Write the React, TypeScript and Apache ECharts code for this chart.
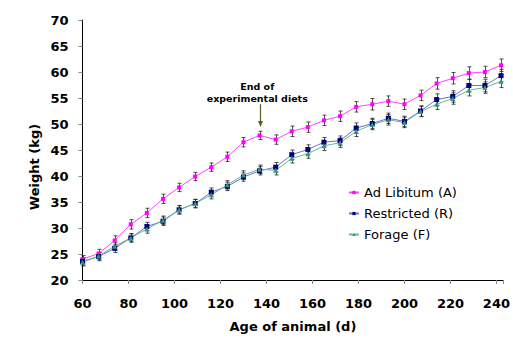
import React, { useEffect, useRef } from "react";
import * as echarts from "echarts";

const days = [60, 67, 74, 81, 88, 95, 102, 109, 116, 123, 130, 137, 144, 151, 158, 165, 172, 179, 186, 193, 200, 207, 214, 221, 228, 235, 242];
const adLibitum = [24.0, 25.1, 27.6, 30.7, 32.9, 35.6, 37.8, 39.9, 41.7, 43.7, 46.5, 47.8, 47.0, 48.6, 49.4, 50.7, 51.5, 53.3, 53.8, 54.4, 53.8, 55.5, 57.8, 58.8, 59.8, 60.0, 61.3];
const restricted = [23.6, 24.5, 26.1, 28.1, 30.3, 31.3, 33.5, 34.7, 36.9, 38.0, 39.8, 41.0, 41.7, 44.1, 45.1, 46.5, 46.8, 49.2, 50.1, 51.1, 50.5, 52.5, 54.7, 55.3, 57.4, 57.4, 59.3];
const forage = [23.4, 24.6, 26.5, 28.1, 29.8, 31.5, 33.5, 34.7, 36.4, 38.3, 40.2, 41.3, 41.1, 43.4, 44.3, 45.8, 46.4, 48.6, 49.9, 50.8, 50.3, 52.4, 53.8, 54.9, 56.5, 57.0, 58.2];
const adLibitumErr = [0.7, 0.8, 0.9, 0.9, 0.9, 0.9, 0.8, 0.8, 0.8, 0.9, 0.9, 0.8, 0.9, 1.0, 1.0, 1.0, 1.0, 1.0, 1.1, 1.0, 1.0, 1.0, 1.1, 1.1, 1.2, 1.1, 1.2];
const restrictedErr = [0.7, 0.8, 0.8, 0.8, 0.8, 0.8, 0.8, 0.8, 0.8, 0.8, 0.8, 0.8, 0.9, 0.9, 0.9, 0.9, 0.9, 1.0, 1.0, 1.0, 1.0, 1.0, 1.1, 1.1, 1.2, 1.2, 1.2];
const forageErr = [0.7, 0.7, 0.8, 0.8, 0.8, 0.8, 0.8, 0.8, 0.8, 0.8, 0.8, 0.8, 0.9, 0.9, 0.9, 0.9, 0.9, 1.0, 1.0, 1.0, 1.0, 1.0, 1.0, 1.1, 1.1, 1.1, 1.2];
const seriesNames = ["Ad Libitum (A)", "Restricted (R)", "Forage (F)"];
const annotationLines = ["End of", "experimental diets"];
const annotationDay = 137;

const FONT = "DejaVu Sans";

function errorSeries(values: number[], errs: number[]) {
  return {
    type: "custom",
    silent: true,
    z: 3,
    data: days.map((d, i) => [d, values[i], errs[i]]),
    renderItem: (params: any, api: any) => {
      const x = api.value(0);
      const y = api.value(1);
      const e = api.value(2);
      const top = api.coord([x, y + e]);
      const bot = api.coord([x, y - e]);
      const w = 2;
      const cx = Math.round(top[0]) + 0.5;
      const st = { stroke: "#222", lineWidth: 0.8 };
      return {
        type: "group",
        children: [
          { type: "line", shape: { x1: cx, y1: top[1], x2: cx, y2: bot[1] }, style: st },
          { type: "line", shape: { x1: cx - w, y1: top[1], x2: cx + w, y2: top[1] }, style: st },
          { type: "line", shape: { x1: cx - w, y1: bot[1], x2: cx + w, y2: bot[1] }, style: st },
        ],
      };
    },
  };
}

export default function App() {
  const ref = useRef<HTMLDivElement>(null);
  useEffect(() => {
    document.body.style.margin = "0";
    const chart = echarts.init(ref.current!, null, { renderer: "svg" });
    const option: any = {
      animation: false,
      textStyle: { fontFamily: FONT },
      grid: { left: 82.5, right: 5, top: 20, bottom: 55.5, containLabel: false },
      xAxis: {
        type: "value",
        min: 60,
        max: 243,
        interval: 20,
        name: "Age of animal (d)",
        nameLocation: "middle",
        nameGap: 40,
        nameTextStyle: { fontFamily: FONT, fontWeight: "bold", fontSize: 13, color: "#000" },
        axisLine: { lineStyle: { color: "#000", width: 1 } },
        axisTick: { length: 4, lineStyle: { color: "#888" } },
        axisLabel: {
          margin: 17,
          fontFamily: FONT,
          fontWeight: "bold",
          fontSize: 13,
          color: "#000",
          formatter: (v: number) => (v % 20 === 0 ? String(v) : ""),
        },
        splitLine: { show: false },
      },
      yAxis: {
        type: "value",
        min: 20,
        max: 70,
        interval: 5,
        axisLine: { show: true, lineStyle: { color: "#000", width: 1 } },
        axisTick: { show: true, length: 4, lineStyle: { color: "#888" } },
        axisLabel: { margin: 14, fontFamily: FONT, fontWeight: "bold", fontSize: 13, color: "#000" },
        splitLine: { show: false },
      },
      legend: {
        data: seriesNames,
        orient: "vertical",
        left: 343,
        top: 181,
        itemWidth: 10,
        itemHeight: 4,
        itemGap: 8,
        textStyle: { fontFamily: FONT, fontSize: 13, color: "#000" },
      },
      series: [
        errorSeries(adLibitum, adLibitumErr),
        errorSeries(restricted, restrictedErr),
        errorSeries(forage, forageErr),
        {
          name: seriesNames[0],
          type: "line",
          z: 4,
          data: days.map((d, i) => [d, adLibitum[i]]),
          symbol: "rect",
          symbolSize: 4,
          lineStyle: { color: "#FF44FF", width: 1 },
          itemStyle: { color: "#FF00FF" },
        },
        {
          name: seriesNames[1],
          type: "line",
          z: 4,
          data: days.map((d, i) => [d, restricted[i]]),
          symbol: "rect",
          symbolSize: 5,
          lineStyle: { color: "#7070C8", width: 1 },
          itemStyle: { color: "#000080" },
        },
        {
          name: seriesNames[2],
          type: "line",
          z: 4,
          data: days.map((d, i) => [d, forage[i]]),
          symbol: "triangle",
          symbolSize: 5,
          lineStyle: { color: "#66B896", width: 1 },
          itemStyle: { color: "#339970" },
        },
      ],
    };
    chart.setOption(option);

    const pTop = chart.convertToPixel({ gridIndex: 0 }, [annotationDay, 53.8]) as number[];
    const pBot = chart.convertToPixel({ gridIndex: 0 }, [annotationDay, 49.4]) as number[];
    const pText = chart.convertToPixel({ gridIndex: 0 }, [136, 58.3]) as number[];
    const ax = Math.round(pTop[0]) + 0.5;
    chart.setOption({
      graphic: [
        {
          type: "text",
          x: 34,
          y: 167,
          rotation: Math.PI / 2,
          style: {
            text: "Weight (kg)",
            fontFamily: FONT,
            fontWeight: "bold",
            fontSize: 13,
            fill: "#000",
            align: "center",
            verticalAlign: "middle",
          },
        },
        {
          type: "text",
          x: pText[0],
          y: pText[1],
          style: {
            text: annotationLines.join("\n"),
            fontFamily: FONT,
            fontWeight: "bold",
            fontSize: 9.5,
            lineHeight: 12,
            fill: "#000",
            align: "center",
            verticalAlign: "top",
          },
        },
        {
          type: "line",
          shape: { x1: ax, y1: pTop[1], x2: ax, y2: pBot[1] - 4 },
          style: { stroke: "#4F6228", lineWidth: 1.2 },
        },
        {
          type: "polygon",
          shape: { points: [[ax - 2.5, pBot[1] - 6], [ax + 2.5, pBot[1] - 6], [ax, pBot[1]]] },
          style: { fill: "#4F6228" },
        },
      ],
    });
    return () => chart.dispose();
  }, []);
  return <div ref={ref} style={{ width: 513, height: 338 }} />;
}
